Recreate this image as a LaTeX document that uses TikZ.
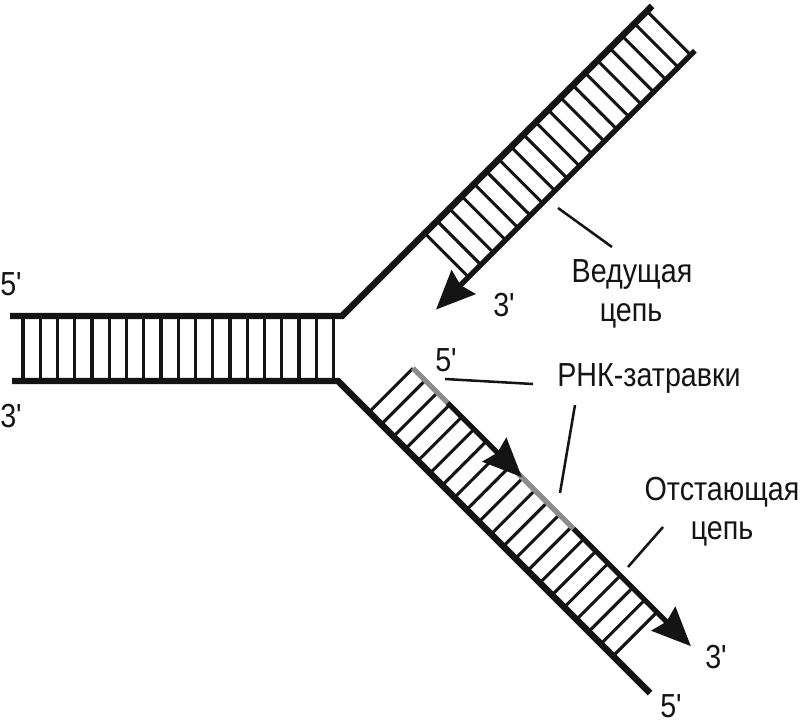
\documentclass[tikz,border=0pt]{standalone}
\usepackage{fontspec}
\setmainfont{Liberation Sans}[FakeStretch=0.86,Ligatures=TeXOff]
\usetikzlibrary{arrows.meta}
\definecolor{ink}{HTML}{141414}
\definecolor{primer}{HTML}{8C8C8C}
\tikzset{
  strand/.style={draw=ink, line width=4.8pt},
  daughter/.style={draw=ink, line width=3.9pt},
  rna/.style={draw=primer, line width=3.9pt},
  rung/.style={draw=ink, line width=2.3pt},
  leader/.style={draw=ink, line width=1.9pt},
  lbl/.style={inner sep=0pt, text=ink, font=\fontsize{25}{30}\selectfont},
  tip/.style={-{Stealth[length=29pt,width=25pt,inset=3pt]}}
}
\begin{document}
\begin{tikzpicture}[x=0.75pt,y=-0.75pt]
\fill[white] (0,0) rectangle (800,724);
\useasboundingbox (0,0) rectangle (800,724);

% rungs of the parental duplex
\foreach \i in {0,...,18} {
  \draw[rung] ({23+17.25*\i},316) -- ({23+17.25*\i},381);
}
% rungs of the leading arm
\foreach \i in {0,...,18} {
  \pgfmathsetmacro\tt{117+17.45*\i}
  \draw[rung] ({342+\tt*0.70711},{316-\tt*0.70711}) -- ++(43.84,43.84);
}
% rungs of the lagging arm
\foreach \i in {0,...,20} {
  \pgfmathsetmacro\tt{44+17.25*\i}
  \draw[rung] ({338+\tt*0.70711},{381+\tt*0.70711}) -- ++(43.84,-43.84);
}

% parental strands
\coordinate (topL) at (10,316);
\coordinate (forkT) at (342,316);
\coordinate (topE) at (652,6);
\coordinate (botL) at (12,381);
\coordinate (forkB) at (338,381);
\coordinate (botE) at (650,693);
\draw[strand] (topL) -- (forkT) -- (topE);
\draw[strand] (botL) -- (forkB) -- (botE);

% leading strand
\coordinate (leadS) at (694.8,50.8);
\coordinate (leadT) at (436,309.6);
\draw[daughter,tip] (leadS) -- (leadT);

% lagging strand: primers (grey) and fragments
\coordinate (p1a) at (412.95,368.27);
\coordinate (p1b) at (447.6,402.9);
\coordinate (f1t) at (521.9,477.2);
\coordinate (p2a) at (518.0,473.4);
\coordinate (p2b) at (573.5,528.8);
\coordinate (f2t) at (690.9,646.2);
\draw[rna] (p1a) -- (p1b);
\draw[rna] (p2a) -- (p2b);
\draw[daughter,tip] (p1b) -- (f1t);
\draw[daughter,tip] (p2b) -- (f2t);

% labels
\node[lbl, anchor=base west] (l5a) at (0,295) {5'};
\node[lbl, anchor=base west] (l3a) at (0,427) {3'};
\node[lbl, anchor=base west] (l3b) at (493,316) {3'};
\node[lbl, anchor=base west] (l5b) at (435,371) {5'};
\node[lbl, anchor=base west] (l3c) at (705,668) {3'};
\node[lbl, anchor=base west] (l5c) at (660,717) {5'};
\node[lbl, anchor=base] (lead1) at (632,282) {Ведущая};
\node[lbl, anchor=base] (lead2) at (631,321) {цепь};
\node[lbl, anchor=base] (rnk) at (649,386) {РНК-затравки};
\node[lbl, anchor=base] (lag1) at (722,500) {Отстающая};
\node[lbl, anchor=base] (lag2) at (722,539) {цепь};

% leader lines
\coordinate (a1) at (558,208); \coordinate (a2) at (612,247);
\coordinate (b1) at (445,379); \coordinate (b2) at (533,384);
\coordinate (c1) at (575,405); \coordinate (c2) at (560,493);
\coordinate (d1) at (663,527); \coordinate (d2) at (628,567);
\draw[leader] (a1) -- (a2);
\draw[leader] (b1) -- (b2);
\draw[leader] (c1) -- (c2);
\draw[leader] (d1) -- (d2);
\end{tikzpicture}
\end{document}
